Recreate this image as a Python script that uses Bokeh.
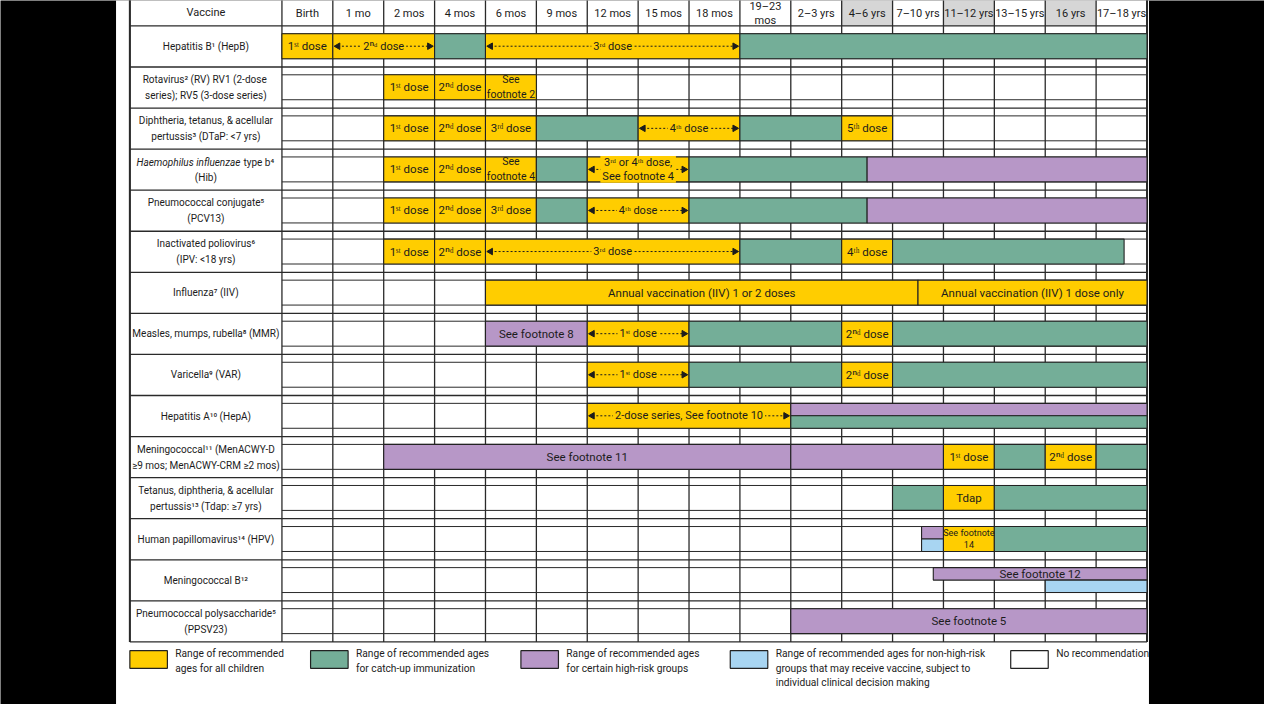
import numpy as np
from bokeh.plotting import figure
from bokeh.models import Range1d, ColumnDataSource
from bokeh.core.properties import value
from bokeh.embed import file_html
from bokeh.resources import INLINE

# ---------------- data ----------------
ages = ["Birth", "1 mo", "2 mos", "4 mos", "6 mos", "9 mos", "12 mos", "15 mos",
        "18 mos", "19–23\nmos", "2–3 yrs", "4–6 yrs", "7–10 yrs", "11–12 yrs",
        "13–15 yrs", "16 yrs", "17–18 yrs"]
shaded_ages = ["4–6 yrs", "11–12 yrs", "16 yrs"]

vaccines = [
    "Hepatitis B¹ (HepB)",
    "Rotavirus²  (RV) RV1 (2-dose\nseries); RV5 (3-dose series)",
    "Diphtheria, tetanus, & acellular\npertussis³ (DTaP: <7 yrs)",
    "",  # Hib, drawn in two styles below
    "Pneumococcal conjugate⁵\n(PCV13)",
    "Inactivated poliovirus⁶\n(IPV: <18 yrs)",
    "Influenza⁷ (IIV)",
    "Measles, mumps, rubella⁸ (MMR)",
    "Varicella⁹ (VAR)",
    "Hepatitis A¹⁰ (HepA)",
    "Meningococcal¹¹ (MenACWY-D\n≥9 mos; MenACWY-CRM ≥2 mos)",
    "Tetanus, diphtheria, & acellular\npertussis¹³ (Tdap: ≥7 yrs)",
    "Human papillomavirus¹⁴ (HPV)",
    "Meningococcal B¹²",
    "Pneumococcal polysaccharide⁵\n(PPSV23)",
]
hib_italic = "Haemophilus influenzae"
hib_rest = "type b⁴"
hib_line2 = "(Hib)"

# bars: row, start age index, end age index, kind, part, label, arrow
bar_row = [0, 0, 0, 0, 0,
           1, 1, 1,
           2, 2, 2, 2, 2, 2, 2,
           3, 3, 3, 3, 3, 3, 3,
           4, 4, 4, 4, 4, 4, 4,
           5, 5, 5, 5, 5, 5,
           6, 6,
           7, 7, 7, 7, 7,
           8, 8, 8, 8,
           9, 9, 9,
           10, 10, 10, 10, 10, 10,
           11, 11, 11,
           12, 12, 12, 12,
           13, 13,
           14]
bar_start = [0, 1, 3, 4, 9,
             2, 3, 4,
             2, 3, 4, 5, 7, 9, 11,
             2, 3, 4, 5, 6, 8, 11.5,
             2, 3, 4, 5, 6, 8, 11.5,
             2, 3, 4, 9, 11, 12,
             4, 12.5,
             4, 6, 8, 11, 12,
             6, 8, 11, 12,
             6, 10, 10,
             2, 10, 13, 14, 15, 16,
             12, 13, 14,
             12.57, 12.57, 13, 14,
             12.8, 15,
             10]
bar_end = [1, 3, 4, 9, 17,
           3, 4, 5,
           3, 4, 5, 7, 9, 11, 12,
           3, 4, 5, 6, 8, 11.5, 17,
           3, 4, 5, 6, 8, 11.5, 17,
           3, 4, 9, 11, 12, 16.55,
           12.5, 17,
           6, 8, 11, 12, 17,
           8, 11, 12, 17,
           10, 17, 17,
           10, 13, 14, 15, 16, 17,
           13, 14, 17,
           13, 13, 14, 17,
           17, 17,
           17]
bar_kind = ["all", "all", "catch", "all", "catch",
            "all", "all", "all",
            "all", "all", "all", "catch", "all", "catch", "all",
            "all", "all", "all", "catch", "all", "catch", "high",
            "all", "all", "all", "catch", "all", "catch", "high",
            "all", "all", "all", "catch", "all", "catch",
            "all", "all",
            "high", "all", "catch", "all", "catch",
            "all", "catch", "all", "catch",
            "all", "high", "catch",
            "high", "high", "all", "catch", "all", "catch",
            "catch", "all", "catch",
            "high", "nonhigh", "all", "catch",
            "high", "nonhigh",
            "high"]
bar_part = ["full"] * 5 + ["full"] * 3 + ["full"] * 7 + ["full"] * 7 + \
           ["full"] * 7 + ["full"] * 6 + ["full"] * 2 + ["full"] * 5 + \
           ["full"] * 4 + \
           ["full", "top", "bottom"] + \
           ["full"] * 6 + ["full"] * 3 + \
           ["top", "bottom", "full", "full"] + \
           ["top", "bottom"] + \
           ["full"]
bar_label = ["1ˢᵗ dose", "2ⁿᵈ dose", "", "3ʳᵈ dose", "",
             "1ˢᵗ dose", "2ⁿᵈ dose", "See\nfootnote 2",
             "1ˢᵗ dose", "2ⁿᵈ dose", "3ʳᵈ dose", "", "4ᵗʰ dose", "", "5ᵗʰ dose",
             "1ˢᵗ dose", "2ⁿᵈ dose", "See\nfootnote 4", "", "3ʳᵈ or 4ᵗʰ dose,\nSee footnote 4", "", "",
             "1ˢᵗ dose", "2ⁿᵈ dose", "3ʳᵈ dose", "", "4ᵗʰ dose", "", "",
             "1ˢᵗ dose", "2ⁿᵈ dose", "3ʳᵈ dose", "", "4ᵗʰ dose", "",
             "Annual vaccination (IIV) 1 or 2 doses", "Annual vaccination (IIV) 1 dose only",
             "See footnote 8", "1ˢᵗ dose", "", "2ⁿᵈ dose", "",
             "1ˢᵗ dose", "", "2ⁿᵈ dose", "",
             "2-dose series, See footnote 10", "", "",
             "See footnote 11", "", "1ˢᵗ dose", "", "2ⁿᵈ dose", "",
             "", "Tdap", "",
             "", "", "See footnote\n14", "",
             "See footnote 12", "",
             "See footnote 5"]
bar_arrow = [False, True, False, True, False,
             False, False, False,
             False, False, False, False, True, False, False,
             False, False, False, False, True, False, False,
             False, False, False, False, True, False, False,
             False, False, True, False, False, False,
             False, False,
             False, True, False, False, False,
             True, False, False, False,
             True, False, False,
             False, False, False, False, False, False,
             False, False, False,
             False, False, False, False,
             False, False,
             False]

legend_kinds = ["all", "catch", "high", "nonhigh", "none"]
legend_labels = [
    "Range of recommended\nages for all children",
    "Range of recommended ages\nfor catch-up immunization",
    "Range of recommended ages\nfor certain high-risk groups",
    "Range of recommended ages for non-high-risk\ngroups that may receive vaccine, subject to\nindividual clinical decision making",
    "No recommendation",
]

# ---------------- style / layout ----------------
COLORS = {"all": "#FFCD00", "catch": "#74AE98", "high": "#B797C7",
          "nonhigh": "#A8D5F2", "none": "#FFFFFF"}
FONT = "Roboto"
INK = "#1c1c1c"
GRIDC = "#2a2a2a"

W, H = 1264, 704
X0, CW = 285.0, 51.53     # reference pixel of first age column, column width
Y0, RH = 26.0, 42.0       # reference pixel of first vaccine row, row height
BT, BB = 8.0 / RH, 33.5 / RH  # bar top / bottom within a row


def fx(px):
    return (px - X0) / CW


def fy(py):
    return (py - Y0) / RH


p = figure(width=W, height=H,
           x_range=Range1d(fx(0), fx(1280)),
           y_range=Range1d(fy(720), fy(0)),
           x_axis_location=None, y_axis_location=None,
           output_backend="svg", toolbar_location=None, min_border=0,
           background_fill_color="black", border_fill_color="black",
           outline_line_color=None)
p.xgrid.visible = False
p.ygrid.visible = False

NA = len(ages)
NV = len(vaccines)
VX = fx(131)  # left edge of vaccine column
VC = (VX + 0) / 2

# white sheet
p.quad(left=fx(117), right=fx(1163), bottom=fy(730), top=fy(-10),
       fill_color="white", line_color=None)

# shaded header cells
sh = [ages.index(a) for a in shaded_ages]
p.quad(left=sh, right=[i + 1 for i in sh], bottom=0, top=fy(-10),
       fill_color="#D6D6D6", line_color=None)

# grid lines
vx = [VX] + list(range(NA + 1))
p.segment(x0=vx, x1=vx, y0=fy(-10), y1=NV, line_color=GRIDC, line_width=1.3)
hy = list(range(NV + 1))
p.segment(x0=VX, x1=NA, y0=hy, y1=hy, line_color=GRIDC, line_width=1.3)
iy = [k + BT for k in range(NV)] + [k + BB for k in range(NV)]
p.segment(x0=0, x1=NA, y0=iy, y1=iy, line_color=GRIDC, line_width=1.0)
p.segment(x0=[VX, NA], x1=[VX, NA], y0=fy(-10), y1=NV, line_color=GRIDC, line_width=2)

# bars
bt, bb = [], []
for r, part in zip(bar_row, bar_part):
    t, b = r + BT, r + BB
    m = (t + b) / 2
    if part == "top":
        b = m
    elif part == "bottom":
        t = m
    bt.append(t)
    bb.append(b)
src = ColumnDataSource(dict(
    left=bar_start, right=bar_end, top=bt, bottom=bb,
    color=[COLORS[k] for k in bar_kind],
    xc=[(s + e) / 2 for s, e in zip(bar_start, bar_end)],
    yc=[(t + b) / 2 for t, b in zip(bt, bb)],
    label=bar_label))
p.quad(left="left", right="right", top="top", bottom="bottom", source=src,
       fill_color="color", line_color="#222222", line_width=1.1)

# dashed arrows
ai = [i for i, a in enumerate(bar_arrow) if a]
ay = [bar_row[i] + (BT + BB) / 2 for i in ai]
a0 = [bar_start[i] + 0.1 for i in ai]
a1 = [bar_end[i] - 0.1 for i in ai]
p.segment(x0=a0, x1=a1, y0=ay, y1=ay, line_color=INK, line_width=1,
          line_dash="2 2")
p.scatter(x=a0, y=ay, marker="triangle", size=6.5, angle=90, angle_units="deg",
          fill_color=INK, line_color=INK)
p.scatter(x=a1, y=ay, marker="triangle", size=6.5, angle=-90, angle_units="deg",
          fill_color=INK, line_color=INK)

# bar labels
xc, yc = src.data["xc"], src.data["yc"]
wide = [i for i, l in enumerate(bar_label)
        if l and not bar_arrow[i] and (bar_end[i] - bar_start[i] > 1 or "\n" not in l)]
narrow = [i for i, l in enumerate(bar_label)
          if l and not bar_arrow[i] and bar_end[i] - bar_start[i] <= 1 and "\n" in l
          and not l.endswith("14")]
tight = [i for i, l in enumerate(bar_label) if l.endswith("\n14")]
p.text(x=[xc[i] for i in wide], y=[yc[i] for i in wide],
       text=[bar_label[i] for i in wide], text_align="center",
       text_baseline="middle", text_font=value(FONT), text_font_size="11.5px",
       text_color=INK)
p.text(x=[xc[i] for i in narrow], y=[yc[i] for i in narrow],
       text=[bar_label[i] for i in narrow], text_align="center",
       text_baseline="middle", text_font=value(FONT), text_font_size="10.5px",
       text_color=INK, text_line_height=1.15)
p.text(x=[xc[i] for i in tight], y=[yc[i] for i in tight],
       text=[bar_label[i] for i in tight], text_align="center",
       text_baseline="middle", text_font=value(FONT), text_font_size="9px",
       text_color=INK, text_line_height=1.2)
p.text(x=[xc[i] for i in ai], y=ay,
       text=[bar_label[i] for i in ai], text_align="center",
       text_baseline="middle", text_font=value(FONT), text_font_size="11px",
       text_color=INK, text_line_height=1.05,
       background_fill_color=COLORS["all"],
       padding=dict(left=2, right=2, top=0, bottom=0))

# header labels
p.text(x=[i + 0.5 for i in range(NA)], y=fy(13.5), text=ages,
       text_align="center", text_baseline="middle", text_font=value(FONT),
       text_font_size="11px", text_color=INK, text_line_height=1.1)
p.text(x=[VC], y=[fy(12)], text=["Vaccine"], text_align="center",
       text_baseline="middle", text_font=value(FONT), text_font_size="11px",
       text_color=INK)

# vaccine names
vi = [i for i, v in enumerate(vaccines) if v]
p.text(x=VC, y=[i + 0.5 for i in vi], text=[vaccines[i] for i in vi],
       text_align="center", text_baseline="middle", text_font=value(FONT),
       text_font_size="10px", text_color=INK, text_line_height=1.45)
hib = vaccines.index("")
p.text(x=[fx(243)], y=[hib + 0.5 - 0.18], text=[hib_italic], text_align="right",
       text_baseline="middle", text_font=value(FONT), text_font_size="10px",
       text_font_style="italic", text_color=INK)
p.text(x=[fx(246)], y=[hib + 0.5 - 0.18], text=[hib_rest], text_align="left",
       text_baseline="middle", text_font=value(FONT), text_font_size="10px",
       text_color=INK)
p.text(x=[VC], y=[hib + 0.5 + 0.18], text=[hib_line2], text_align="center",
       text_baseline="middle", text_font=value(FONT), text_font_size="10px",
       text_color=INK)

# legend
lg_box_px = [131, 314, 527, 739, 1023]
lg_box_w = 38
p.quad(left=[fx(b) for b in lg_box_px], right=[fx(b + lg_box_w) for b in lg_box_px],
       top=fy(665), bottom=fy(683), fill_color=[COLORS[k] for k in legend_kinds],
       line_color="#222222", line_width=1.2)
p.text(x=[fx(b + lg_box_w + 8) for b in lg_box_px], y=fy(662), text=legend_labels,
       text_align="left", text_baseline="top", text_font=value(FONT),
       text_font_size="10.2px", text_color=INK, text_line_height=1.35)

open("out.html", "w").write(file_html(p, INLINE))
